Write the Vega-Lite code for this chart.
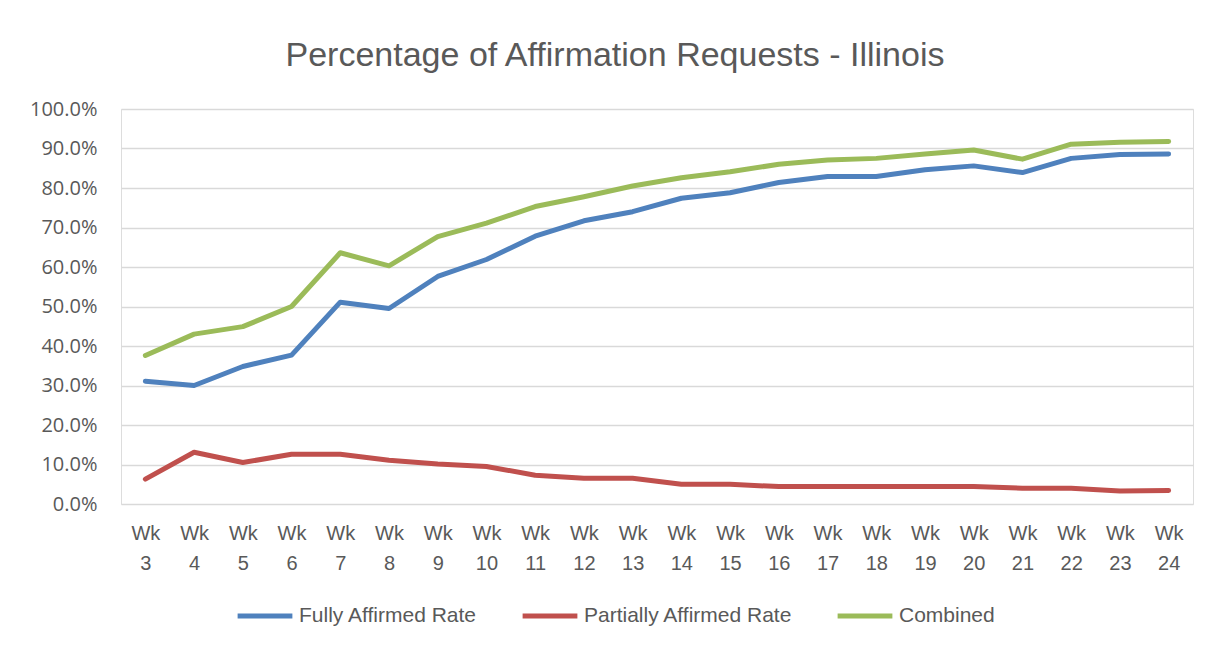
{
  "$schema": "https://vega.github.io/schema/vega-lite/v6.json",
  "autosize": {"type": "none"},
  "width": 1072,
  "height": 395,
  "padding": {"left": 121, "top": 109, "right": 23, "bottom": 145},
  "background": "white",
  "title": {
    "text": "Percentage of Affirmation Requests - Illinois",
    "frame": "group",
    "anchor": "middle",
    "dx": -42,
    "offset": 26,
    "font": "Liberation Sans",
    "fontSize": 34,
    "fontWeight": "normal",
    "color": "#595959"
  },
  "data": {
    "values": [
      {"week": 3, "series": "Fully Affirmed Rate", "value": 0.311},
      {"week": 4, "series": "Fully Affirmed Rate", "value": 0.300},
      {"week": 5, "series": "Fully Affirmed Rate", "value": 0.348},
      {"week": 6, "series": "Fully Affirmed Rate", "value": 0.377},
      {"week": 7, "series": "Fully Affirmed Rate", "value": 0.511},
      {"week": 8, "series": "Fully Affirmed Rate", "value": 0.495},
      {"week": 9, "series": "Fully Affirmed Rate", "value": 0.576},
      {"week": 10, "series": "Fully Affirmed Rate", "value": 0.619},
      {"week": 11, "series": "Fully Affirmed Rate", "value": 0.678},
      {"week": 12, "series": "Fully Affirmed Rate", "value": 0.717},
      {"week": 13, "series": "Fully Affirmed Rate", "value": 0.740},
      {"week": 14, "series": "Fully Affirmed Rate", "value": 0.774},
      {"week": 15, "series": "Fully Affirmed Rate", "value": 0.788},
      {"week": 16, "series": "Fully Affirmed Rate", "value": 0.814},
      {"week": 17, "series": "Fully Affirmed Rate", "value": 0.829},
      {"week": 18, "series": "Fully Affirmed Rate", "value": 0.829},
      {"week": 19, "series": "Fully Affirmed Rate", "value": 0.846},
      {"week": 20, "series": "Fully Affirmed Rate", "value": 0.856},
      {"week": 21, "series": "Fully Affirmed Rate", "value": 0.839},
      {"week": 22, "series": "Fully Affirmed Rate", "value": 0.875},
      {"week": 23, "series": "Fully Affirmed Rate", "value": 0.885},
      {"week": 24, "series": "Fully Affirmed Rate", "value": 0.886},
      {"week": 3, "series": "Partially Affirmed Rate", "value": 0.063},
      {"week": 4, "series": "Partially Affirmed Rate", "value": 0.131},
      {"week": 5, "series": "Partially Affirmed Rate", "value": 0.105},
      {"week": 6, "series": "Partially Affirmed Rate", "value": 0.126},
      {"week": 7, "series": "Partially Affirmed Rate", "value": 0.126},
      {"week": 8, "series": "Partially Affirmed Rate", "value": 0.111},
      {"week": 9, "series": "Partially Affirmed Rate", "value": 0.101},
      {"week": 10, "series": "Partially Affirmed Rate", "value": 0.095},
      {"week": 11, "series": "Partially Affirmed Rate", "value": 0.073},
      {"week": 12, "series": "Partially Affirmed Rate", "value": 0.065},
      {"week": 13, "series": "Partially Affirmed Rate", "value": 0.065},
      {"week": 14, "series": "Partially Affirmed Rate", "value": 0.050},
      {"week": 15, "series": "Partially Affirmed Rate", "value": 0.050},
      {"week": 16, "series": "Partially Affirmed Rate", "value": 0.044},
      {"week": 17, "series": "Partially Affirmed Rate", "value": 0.044},
      {"week": 18, "series": "Partially Affirmed Rate", "value": 0.044},
      {"week": 19, "series": "Partially Affirmed Rate", "value": 0.044},
      {"week": 20, "series": "Partially Affirmed Rate", "value": 0.044},
      {"week": 21, "series": "Partially Affirmed Rate", "value": 0.040},
      {"week": 22, "series": "Partially Affirmed Rate", "value": 0.040},
      {"week": 23, "series": "Partially Affirmed Rate", "value": 0.033},
      {"week": 24, "series": "Partially Affirmed Rate", "value": 0.034},
      {"week": 3, "series": "Combined", "value": 0.376},
      {"week": 4, "series": "Combined", "value": 0.430},
      {"week": 5, "series": "Combined", "value": 0.449},
      {"week": 6, "series": "Combined", "value": 0.500},
      {"week": 7, "series": "Combined", "value": 0.636},
      {"week": 8, "series": "Combined", "value": 0.603},
      {"week": 9, "series": "Combined", "value": 0.677},
      {"week": 10, "series": "Combined", "value": 0.711},
      {"week": 11, "series": "Combined", "value": 0.753},
      {"week": 12, "series": "Combined", "value": 0.778},
      {"week": 13, "series": "Combined", "value": 0.805},
      {"week": 14, "series": "Combined", "value": 0.826},
      {"week": 15, "series": "Combined", "value": 0.841},
      {"week": 16, "series": "Combined", "value": 0.860},
      {"week": 17, "series": "Combined", "value": 0.871},
      {"week": 18, "series": "Combined", "value": 0.875},
      {"week": 19, "series": "Combined", "value": 0.886},
      {"week": 20, "series": "Combined", "value": 0.896},
      {"week": 21, "series": "Combined", "value": 0.873},
      {"week": 22, "series": "Combined", "value": 0.911},
      {"week": 23, "series": "Combined", "value": 0.916},
      {"week": 24, "series": "Combined", "value": 0.918}
    ]
  },
  "mark": {"type": "line", "strokeWidth": 5, "strokeCap": "round", "strokeJoin": "round"},
  "encoding": {
    "x": {
      "field": "week",
      "type": "ordinal",
      "scale": {"type": "point", "padding": 0.5},
      "axis": {
        "title": null,
        "labelAngle": 0,
        "labelExpr": "['Wk', datum.label]",
        "labelFont": "Liberation Sans",
        "labelFontSize": 20,
        "labelLineHeight": 30,
        "labelColor": "#595959",
        "labelPadding": 19,
        "ticks": false,
        "domain": false,
        "grid": false
      }
    },
    "y": {
      "field": "value",
      "type": "quantitative",
      "scale": {"domain": [0, 1]},
      "axis": {
        "title": null,
        "format": ".1%",
        "values": [0, 0.1, 0.2, 0.3, 0.4, 0.5, 0.6, 0.7, 0.8, 0.9, 1.0],
        "labelFont": "Open Sans",
        "labelFontSize": 20,
        "labelColor": "#595959",
        "labelPadding": 24,
        "ticks": false,
        "domain": false,
        "grid": true,
        "gridColor": "#D9D9D9",
        "gridWidth": 1.5
      }
    },
    "color": {
      "field": "series",
      "type": "nominal",
      "sort": ["Fully Affirmed Rate", "Partially Affirmed Rate", "Combined"],
      "scale": {
        "domain": ["Fully Affirmed Rate", "Partially Affirmed Rate", "Combined"],
        "range": ["#4F81BD", "#C0504D", "#9BBB59"]
      },
      "legend": {
        "title": null,
        "orient": "none",
        "direction": "horizontal",
        "legendX": 114,
        "legendY": 477,
        "padding": 0,
        "symbolType": "stroke",
        "symbolSize": 3000,
        "symbolStrokeWidth": 5,
        "labelFont": "Liberation Sans",
        "labelFontSize": 21,
        "labelLimit": 0,
        "labelColor": "#595959",
        "labelOffset": 4,
        "columnPadding": 34
      }
    }
  }
}
